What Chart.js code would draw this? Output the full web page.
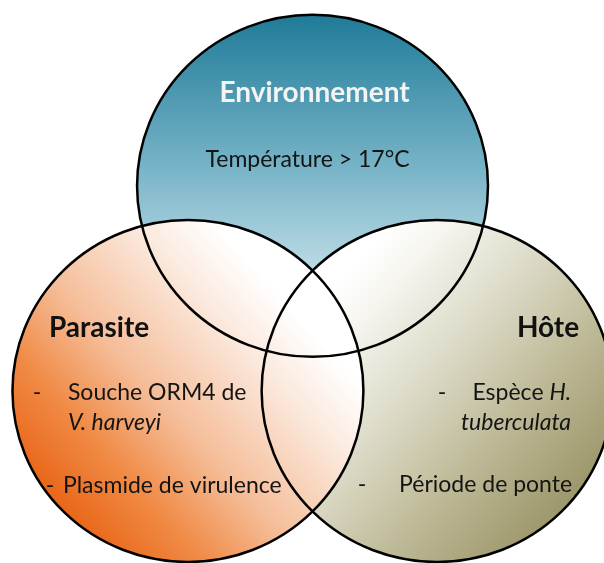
<!DOCTYPE html>
<html>
<head>
<meta charset="utf-8">
<script src="https://cdn.jsdelivr.net/npm/chart.js@4.4.1/dist/chart.umd.min.js"></script>
<style>
html, body { margin: 0; padding: 0; background: #fff; }
canvas { display: block; }
</style>
</head>
<body>
<canvas id="venn" width="604" height="563"></canvas>
<script>
// les trois ensembles du diagramme (rayon = 1 unité)
const sets = ['Environnement', 'Parasite', 'Hôte'];
const centerX = [0, -0.71, 0.71];
const centerY = [1.2, 0, 0];
const radius = [1, 1, 1];

// texte dans chaque cercle (_..._ = italique)
const envItems = ['Température > 17°C'];
const parasiteItems = ['Souche ORM4 de', '_V. harveyi_', 'Plasmide de virulence'];
const hoteItems = ['Espèce _H._', '_tuberculata_', 'Période de ponte'];
const items = [envItems, parasiteItems, hoteItems];

// dégradés : du foncé vers le clair
const fills = [
	[[0, '#1f7b98'], [0.45, '#78b4c8'], [0.85, '#d3e8ef'], [1, '#f4f9fb']],
	[[0, '#e96618'], [0.2, '#f08a45'], [0.42, '#f5bd98'], [0.7, '#fbe8dc'], [0.88, '#ffffff']],
	[[0, '#9d976b'], [0.3, '#bfbb99'], [0.55, '#dcdac7'], [0.8, '#f6f5ef'], [0.92, '#ffffff']]
];
const gradDir = [[0, 1, 0, -1], [-0.75, -0.66, 0.72, 0.70], [0.75, -0.66, -0.72, 0.70]];
const drawOrder = [0, 2, 1];

// position des textes, en px par rapport au centre du cercle
// title: [dx, dy, align]  lines: [dx, dy, align, tiret dx ou null]
const textLayout = [
	{ title: [2, -84, 'center'], color: '#f4f4f4', lines: [[-5, -19, 'center', null]] },
	{ title: [-139, -54, 'left'], color: '#111', lines: [[-120, 9, 'left', -151], [-120, 39, 'left', null], [-125, 102, 'left', -138]] },
	{ title: [142, -54, 'right'], color: '#111', lines: [[134, 9, 'right', 5], [134, 39, 'right', null], [135, 101, 'right', -75]] }
];
const FONT = 'Lato';
const titleSize = 28;
const textSize = 23;

function circlePx(chart, i)
{
	const xs = chart.scales.x, ys = chart.scales.y;
	const d = chart.data.datasets[i].data[0];
	const px = xs.getPixelForValue(d.x), py = ys.getPixelForValue(d.y);
	return {
		px: px, py: py,
		rx: xs.getPixelForValue(d.x + d.r) - px,
		ry: py - ys.getPixelForValue(d.y + d.r),
		toPx: (u, v) => [xs.getPixelForValue(d.x + u * d.r), ys.getPixelForValue(d.y + v * d.r)]
	};
}

function drawRich(ctx, text, x, y, align, size, weight)
{
	const parts = text.split('_'); // indices impairs en italique
	const fontFor = i => (i % 2 ? 'italic ' : '') + weight + ' ' + size + 'px ' + FONT;
	let w = 0;
	parts.forEach((p, i) => { ctx.font = fontFor(i); w += ctx.measureText(p).width; });
	let cx = align === 'right' ? x - w : (align === 'center' ? x - w / 2 : x);
	ctx.textAlign = 'left';
	parts.forEach((p, i) => {
		ctx.font = fontFor(i);
		ctx.fillText(p, cx, y);
		cx += ctx.measureText(p).width;
	});
}

const vennPlugin = {
	id: 'venn',
	beforeDatasetsDraw(chart)
	{
		const ctx = chart.ctx;
		ctx.save();
		drawOrder.forEach(i => {
			const c = circlePx(chart, i);
			const g = gradDir[i];
			const a = c.toPx(g[0], g[1]), b = c.toPx(g[2], g[3]);
			const grad = ctx.createLinearGradient(a[0], a[1], b[0], b[1]);
			fills[i].forEach(s => grad.addColorStop(s[0], s[1]));
			ctx.beginPath();
			ctx.ellipse(c.px, c.py, c.rx, c.ry, 0, 0, Math.PI * 2);
			ctx.fillStyle = grad;
			ctx.fill();
		});
		// contours
		ctx.strokeStyle = '#000';
		ctx.lineWidth = 2.5;
		sets.forEach((s, i) => {
			const c = circlePx(chart, i);
			ctx.beginPath();
			ctx.ellipse(c.px, c.py, c.rx, c.ry, 0, 0, Math.PI * 2);
			ctx.stroke();
		});
		ctx.restore();
	},
	afterDatasetsDraw(chart)
	{
		const ctx = chart.ctx;
		ctx.save();
		ctx.textBaseline = 'alphabetic';
		sets.forEach((name, i) => {
			const c = circlePx(chart, i);
			const lay = textLayout[i];
			ctx.fillStyle = lay.color;
			drawRich(ctx, name, c.px + lay.title[0], c.py + lay.title[1], lay.title[2], titleSize, 'bold');
			ctx.fillStyle = '#141414';
			items[i].forEach((txt, j) => {
				const l = lay.lines[j];
				drawRich(ctx, txt, c.px + l[0], c.py + l[1], l[2], textSize, 'normal');
				if (l[3] !== null)
					drawRich(ctx, '-', c.px + l[3], c.py + l[1], 'center', textSize, 'normal');
			});
		});
		ctx.restore();
	}
};

new Chart(document.getElementById('venn'), {
	type: 'scatter',
	data: {
		datasets: sets.map((s, i) => ({
			label: s,
			data: [{ x: centerX[i], y: centerY[i], r: radius[i] }],
			pointRadius: 0
		}))
	},
	options: {
		responsive: false,
		animation: false,
		devicePixelRatio: 1,
		layout: { padding: 0 },
		scales: {
			x: { display: false, min: -1.781, max: 1.661 },
			y: { display: false, min: -1.006, max: 2.287 }
		},
		plugins: {
			legend: { display: false },
			tooltip: { enabled: false }
		}
	},
	plugins: [vennPlugin]
});
</script>
</body>
</html>
